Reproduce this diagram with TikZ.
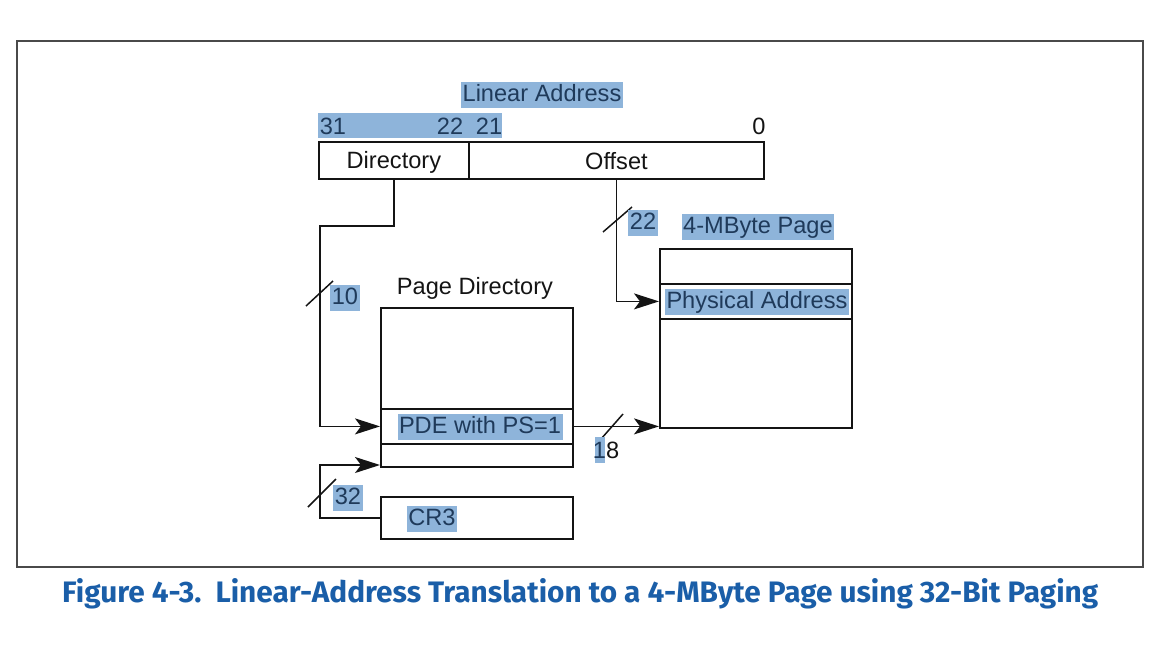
\documentclass[tikz,border=0pt]{standalone}
\usepackage{fontspec}
\usepackage{graphicx}
\setmainfont{Liberation Sans}
\newfontfamily\capfont{Fira Sans}
\usetikzlibrary{arrows.meta,calc}
\definecolor{hl}{HTML}{8EB4DA}
\definecolor{hltext}{HTML}{1F3A5A}
\definecolor{ink}{HTML}{141414}
\definecolor{capblue}{HTML}{1A5EA8}
\definecolor{framegray}{HTML}{4A4A4A}
\begin{document}
\begin{tikzpicture}[x=1pt,y=-1pt,
  every node/.style={font=\fontsize{23.6}{26}\selectfont, text=ink},
  cell/.style={draw=ink, line width=1.8pt, rectangle, anchor=north west, inner sep=0pt},
  hlbox/.style={fill=hl, text=hltext, inner xsep=1.5pt, inner ysep=1pt, text height=18pt, text depth=5.5pt},
  plain/.style={inner sep=0pt},
  arr/.style={draw=ink, line width=1.8pt, -{Stealth[length=25pt,width=16pt,inset=6pt]}},
  wire/.style={draw=ink, line width=1.8pt},
  slash/.style={draw=ink, line width=1.5pt}
]
\useasboundingbox (0,0) rectangle (1157,656);
% outer frame
\draw[framegray, line width=2.2pt] (17,41) rectangle (1143,567) ;

% Linear address labels
\node[hlbox] (la) at (542,95) {Linear Address};
\fill[hl] (318,113) rectangle (502,138);
\node[plain, anchor=base, text=hltext] (b31) at (333,134) {31};
\node[plain, anchor=base, text=hltext] (b22) at (450,134) {22};
\node[plain, anchor=base, text=hltext] (b21) at (489,134) {21};
\node[plain, anchor=base] (b0) at (759,134) {0};

% Linear address fields
\node[cell, minimum width=150pt, minimum height=37pt] (dir) at (318,141) {};
\node at ($(dir.center)+(0,1.5)$) {Directory};
\node[cell, minimum width=295pt, minimum height=37pt] (off) at (468,141) {};
\node at ($(off.center)+(0,0.5)$) {Offset};

% Page directory
\node[plain] (pdl) at (475,288) {Page Directory};
\node[cell, minimum width=192pt, minimum height=159pt] (pd) at (380,307) {};
\node[cell, minimum width=192pt, minimum height=35pt] (pde) at (380,408) {};
\node[hlbox] (pdet) at (480,427) {PDE with PS=1};

% CR3
\node[cell, minimum width=192pt, minimum height=42pt] (cr3) at (380,496) {};
\node[hlbox] (cr3t) at (432,519) {CR3};

% 4-MByte page
\node[hlbox] (pgl) at (758,227) {4-MByte Page};
\node[cell, minimum width=192pt, minimum height=179pt] (pg) at (659,248) {};
\node[cell, minimum width=192pt, minimum height=35pt] (pa) at (659,283) {};
\node[hlbox] (pat) at (757,302) {Physical Address};

% connectors
\coordinate (c1) at (320,226);
\coordinate (c2) at (320,465);
\draw[arr] (dir.south) |- (c1) |- (pde.west);
\draw[arr] (off.south) |- (pa.west);
\draw[arr] (pde.east) -- (pde.east -| pg.west);
\draw[arr] (cr3.west) -| (c2) -- (c2 -| pd.west);

% bus width slashes and labels
\draw[slash] (306,306) -- (333,281);
\node[hlbox] (w10) at (345,298) {10};
\draw[slash] (603,232) -- (632,207);
\node[hlbox] (w22) at (643,223) {22};
\draw[slash] (308,507) -- (336,479);
\node[hlbox] (w32) at (348,498) {32};
\draw[slash] (601,439) -- (623,414);
\fill[hl] (595,437) rectangle (605,463);
\node[plain] (w18) at (606,450) {\textcolor{hltext}{1}8};

% caption
\node[anchor=south west, inner sep=0pt, text=capblue] (cap) at (62,609)
  {\resizebox{1036pt}{24pt}{\capfont\bfseries Figure 4-3.\ \ Linear-Address Translation to a 4-MByte Page using 32-Bit Paging}};
\end{tikzpicture}
\end{document}
